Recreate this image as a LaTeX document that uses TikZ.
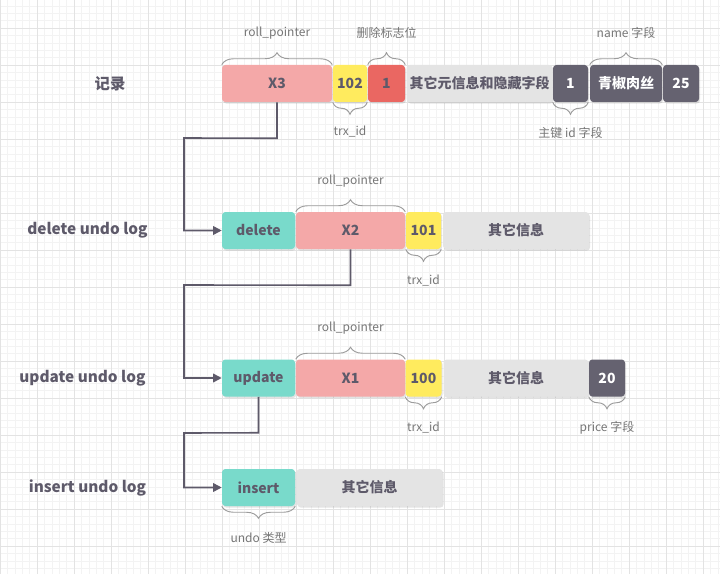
\documentclass[tikz,border=0pt]{standalone}
\usepackage{fontspec}
\setmainfont{Noto Sans CJK SC}
\usetikzlibrary{decorations.pathreplacing,arrows.meta,shadows}
\definecolor{txt}{HTML}{5E5A6A}
\definecolor{lbl}{HTML}{767676}
\definecolor{pinkc}{HTML}{F4A8A8}
\definecolor{yelc}{HTML}{FFEB5E}
\definecolor{redc}{HTML}{EA6762}
\definecolor{grayc}{HTML}{E4E4E4}
\definecolor{darkc}{HTML}{656270}
\definecolor{tealc}{HTML}{79DACB}
\definecolor{gmin}{HTML}{F3F3F3}
\definecolor{gmaj}{HTML}{E3E3E3}
\definecolor{brc}{HTML}{9C9C9C}
\tikzset{
  box/.style={draw=none, rounded corners=2.5pt, inner sep=0pt, minimum height=27.75pt,
    font=\bfseries\fontsize{10.5}{12}\selectfont, text=txt,
    drop shadow={shadow xshift=0.8pt, shadow yshift=-1.2pt, opacity=0.22}},
  dbox/.style={box, fill=darkc, text=white},
  bw/.style={minimum width=#1*0.75pt},
  brace/.style={draw=brc, line width=0.7pt, decorate, decoration={brace, amplitude=9pt}},
  lab/.style={font=\fontsize{9}{11}\selectfont, text=lbl, inner sep=1pt},
  rowlab/.style={font=\bfseries\fontsize{11.5}{14}\selectfont, text=txt},
  conn/.style={draw=txt, line width=1.2pt, -{Triangle[length=6.5pt,width=6.5pt]}},
}
\begin{document}
\begin{tikzpicture}[x=0.75pt,y=-0.75pt]
\useasboundingbox (0,0) rectangle (720,574);
\fill[white] (0,0) rectangle (720,574);
% grid
\foreach \i in {0,...,97} {\draw[gmin, line width=0.4pt] (\i*7.4,0) -- (\i*7.4,574);}
\foreach \i in {0,...,77} {\draw[gmin, line width=0.4pt] (0,5.8+\i*7.4) -- (720,5.8+\i*7.4);}
\foreach \i in {0,...,19} {\draw[gmaj, line width=0.5pt] (\i*37,0) -- (\i*37,574);}
\foreach \i in {0,...,15} {\draw[gmaj, line width=0.5pt] (0,-9+\i*37) -- (720,-9+\i*37);}

% row labels
\node[rowlab] (l1) at (110,83.5) {记录};
\node[rowlab] (l2) at (87.5,230.5) {delete undo log};
\node[rowlab] (l3) at (82.5,378) {update undo log};
\node[rowlab] (l4) at (87.5,487.5) {insert undo log};

% row 1
\node[box, fill=pinkc, bw=110] (x3) at (277,83.5) {X3};
\node[box, fill=yelc, bw=34] (t102) at (350,83.5) {102};
\node[box, fill=redc, bw=37] (del1) at (386.5,83.5) {1};
\node[box, fill=grayc, bw=146] (meta) at (479.5,83.5) {其它元信息和隐藏字段};
\node[dbox, bw=35] (pk) at (570.5,83.5) {1};
\node[dbox, bw=72] (nm) at (626,83.5) {青椒肉丝};
\node[dbox, bw=36] (pr25) at (681,83.5) {25};

% row 2
\node[box, fill=tealc, bw=73] (del) at (258.5,230.5) {delete};
\node[box, fill=pinkc, bw=109] (x2) at (350.5,230.5) {X2};
\node[box, fill=yelc, bw=35] (t101) at (423.5,230.5) {101};
\node[box, fill=grayc, bw=146] (o2) at (516,230.5) {其它信息};

% row 3
\node[box, fill=tealc, bw=73] (upd) at (258.5,378) {update};
\node[box, fill=pinkc, bw=109] (x1) at (350.5,378) {X1};
\node[box, fill=yelc, bw=36] (t100) at (423.5,378) {100};
\node[box, fill=grayc, bw=145] (o3) at (516,378) {其它信息};
\node[dbox, bw=36] (pr20) at (607,378) {20};

% row 4
\node[box, fill=tealc, bw=73] (ins) at (258.5,487.5) {insert};
\node[box, fill=grayc, bw=146] (o4) at (369.5,487.5) {其它信息};

% braces row 1
\draw[brace] (x3.north west) -- (x3.north east);
\node[lab] (b1) at (x3.north |- 0,33) {roll\_pointer};
\draw[brace] (del1.north west) -- (del1.north east);
\node[lab] (b2) at (del1.north |- 0,33) {删除标志位};
\draw[brace] (nm.north west) -- (nm.north east);
\node[lab] (b3) at (nm.north |- 0,33) {name 字段};
\draw[brace] (t102.south east) -- (t102.south west);
\node[lab] (b4) at (t102.south |- 0,132) {trx\_id};
\draw[brace] (pk.south east) -- (pk.south west);
\node[lab] (b5) at (pk.south |- 0,133) {主键 id 字段};

% braces row 2
\draw[brace] (x2.north west) -- (x2.north east);
\node[lab] (b6) at (x2.north |- 0,181) {roll\_pointer};
\draw[brace] (t101.south east) -- (t101.south west);
\node[lab] (b7) at (t101.south |- 0,281) {trx\_id};

% braces row 3
\draw[brace] (x1.north west) -- (x1.north east);
\node[lab] (b8) at (x1.north |- 0,328) {roll\_pointer};
\draw[brace] (t100.south east) -- (t100.south west);
\node[lab] (b9) at (t100.south |- 0,428) {trx\_id};
\draw[brace] (pr20.south east) -- (pr20.south west);
\node[lab] (b10) at (pr20.south |- 0,428) {price 字段};

% braces row 4
\draw[brace] (ins.south east) -- (ins.south west);
\node[lab] (b11) at (ins.south |- 0,538) {undo 类型};

% connectors
\draw[conn] (x3.south) -- ++(0,36) -- (184,138) |- (del.west);
\draw[conn] (x2.south) -- ++(0,36) -- (184,285) |- (upd.west);
\draw[conn] (upd.south) -- ++(0,36) -- (184,433) |- (ins.west);
\end{tikzpicture}
\end{document}
